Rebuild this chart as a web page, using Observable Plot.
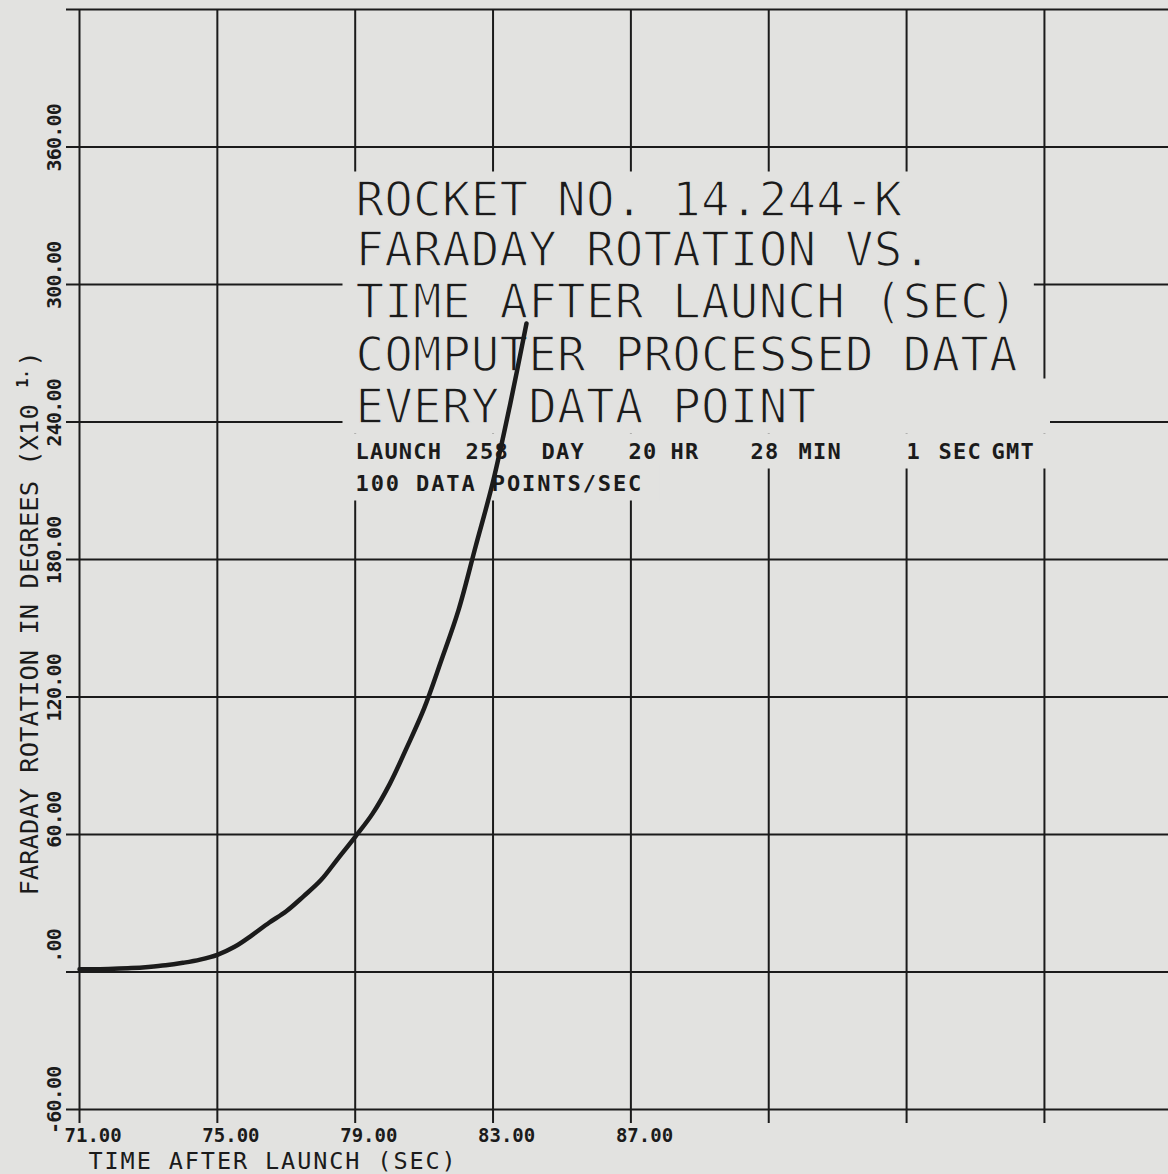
<!DOCTYPE html>
<html><head><meta charset="utf-8">
<script src="https://cdn.jsdelivr.net/npm/d3@7"></script>
<script src="https://cdn.jsdelivr.net/npm/@observablehq/plot@0.6"></script>
<style>
html,body{margin:0;padding:0;background:#e2e2e0;overflow:hidden;}
#chart{width:1168px;height:1174px;}
</style></head><body><div id="chart"></div>
<script>
// ---- data ----
const time = [71.0,71.5,72.0,72.5,73.0,73.5,74.0,74.5,75.0,75.5,76.0,76.5,77.0,77.5,78.0,78.5,79.0,79.5,80.0,80.5,81.0,81.5,82.0,82.5,83.0,83.5,83.97];
const rotation = [1.2,1.2,1.4,1.7,2.2,2.9,4.0,5.4,7.5,11,16,21.5,26.5,33,40,49.5,59,69,82,98,115,136,158,186,214,248,283];
const xGridTicks = [71,75,79,83,87,91,95,99];
const xLabelTicks = [71,75,79,83,87];
const yGridTicks = [-60,0,60,120,180,240,300,360,420];
const yLabelTicks = [-60,0,60,120,180,240,300,360];
const titleLines = ["ROCKET NO. 14.244-K","FARADAY ROTATION VS.","TIME AFTER LAUNCH (SEC)","COMPUTER PROCESSED DATA","EVERY DATA POINT"];
const launchTokens = ["LAUNCH","258","DAY","20","HR","28","MIN","1","SEC","GMT"];
const rateLine = "100 DATA POINTS/SEC";
const xTitle = "TIME AFTER LAUNCH (SEC)";
const yTitle = "FARADAY ROTATION IN DEGREES (X10";
const yTitleExp = "1.";
const yTitleClose = ")";

// ---- layout / style ----
const PAPER = "#e2e2e0", INK = "#1b1b1b";
const FONT = "'DejaVu Sans Mono','Liberation Mono',monospace";
const W = 1168, H = 1174;
const titleDx = 276;
const titleBaselines = [206, 256, 308, 361, 413];
const launchDx = [0,110,186,273,315,395,443,551,583,636];
const launchBaseline = 449, rateBaseline = 481;
const fmt = d => d === 0 ? ".00" : d.toFixed(2);

const series = time.map((t, i) => ({t, r: rotation[i]}));

const marks = [
  Plot.ruleY(yGridTicks, {y: d => d, stroke: INK, strokeWidth: 2, insetLeft: -13}),
  Plot.ruleX(xGridTicks, {x: d => d, stroke: INK, strokeWidth: 2, insetBottom: -14}),
  Plot.text(xLabelTicks, {x: d => d, text: fmt, frameAnchor: "bottom", textAnchor: "start", lineAnchor: "bottom",
    dx: -15, dy: 32, fontSize: 19, fontWeight: "bold", fontFamily: FONT, fill: INK}),
  Plot.text(yLabelTicks, {y: d => d, text: fmt, frameAnchor: "left", rotate: -90, textAnchor: "end", lineAnchor: "bottom",
    dx: -19, dy: -43, fontSize: 20, fontWeight: "bold", fontFamily: FONT, fill: INK}),
  Plot.text([xTitle], {text: d => d, frameAnchor: "bottom-left", textAnchor: "start", lineAnchor: "bottom",
    dx: 9, dy: 59, fontSize: 23.5, fontFamily: FONT, fill: INK}),
  Plot.text([yTitle], {text: d => d, frameAnchor: "bottom-left", rotate: -90, textAnchor: "start", lineAnchor: "bottom",
    dx: -42, dy: -214, fontSize: 25.5, fontFamily: FONT, fill: INK}),
  Plot.text([yTitleExp], {text: d => d, frameAnchor: "bottom-left", rotate: -90, textAnchor: "start", lineAnchor: "bottom",
    dx: -52, dy: -722, fontSize: 15, fontFamily: FONT, fontWeight: "bold", fill: INK}),
  Plot.text([yTitleClose], {text: d => d, frameAnchor: "bottom-left", rotate: -90, textAnchor: "start", lineAnchor: "bottom",
    dx: -42, dy: -743, fontSize: 25.5, fontFamily: FONT, fill: INK}),
  ...titleLines.map((line, i) => Plot.text([line], {text: d => d, frameAnchor: "top-left", textAnchor: "start", lineAnchor: "bottom",
    dx: titleDx, dy: titleBaselines[i], fontSize: 47.5, fontFamily: FONT, fill: INK, stroke: PAPER, strokeWidth: 1.4})),
  ...launchTokens.map((tok, i) => Plot.text([tok], {text: d => d, frameAnchor: "top-left", textAnchor: "start", lineAnchor: "bottom",
    dx: titleDx + launchDx[i], dy: launchBaseline, fontSize: 22, fontWeight: "bold", fontFamily: FONT, fill: INK})),
  Plot.text([rateLine], {text: d => d, frameAnchor: "top-left", textAnchor: "start", lineAnchor: "bottom",
    dx: titleDx, dy: rateBaseline, fontSize: 22, fontWeight: "bold", fontFamily: FONT, fill: INK}),
  Plot.line(series, {x: "t", y: "r", stroke: INK, strokeWidth: 4.5, curve: "catmull-rom"})
];

const plot = Plot.plot({
  width: W, height: H,
  marginLeft: 79, marginTop: 9, marginRight: 0, marginBottom: 65,
  x: {domain: [71, 102.6], axis: null},
  y: {domain: [-60, 420], axis: null},
  style: {background: PAPER, color: INK, fontFamily: FONT, overflow: "visible"},
  marks
});
document.getElementById("chart").append(plot);
const svg = plot.tagName.toLowerCase() === "svg" ? plot : plot.querySelector("svg");
const svgRect = svg.getBoundingClientRect();

// classify each text: the bottom axis title shares its wording with a title row
const allText = [...svg.querySelectorAll("text")];
const isAxisTitle = t => t.textContent === xTitle && (t.getBoundingClientRect().top - svgRect.top) > 1000;
const isXTick = t => xLabelTicks.map(fmt).includes(t.textContent) && !/rotate/.test(t.getAttribute("transform") || "");

// letter spacing of the plotter lettering (per text)
const spacing = new Map();
titleLines.forEach(t => spacing.set(t, 0.2));
spacing.set(rateLine, 1.9);
launchTokens.forEach(t => spacing.set(t, 1.2));
yLabelTicks.forEach(d => spacing.set(fmt(d), -0.8));

const thinSet = new Set([...titleLines]);
const knockSet = new Set([...titleLines, ...launchTokens, rateLine]);
const wideSet = new Set([titleLines[4]]);
const smallSet = new Set([...launchTokens, rateLine]);

const knockTexts = [];
allText.forEach(t => {
  const s = t.textContent;
  if (isAxisTitle(t)) { t.style.letterSpacing = "1.9px"; return; }
  if (isXTick(t)) return;
  if (spacing.has(s)) t.style.letterSpacing = spacing.get(s) + "px";
  if (thinSet.has(s)) {
    // thin the plotter-style strokes: paper stroke painted over the glyph fill
    t.style.paintOrder = "normal";
    t.setAttribute("paint-order", "normal");
  }
  if (knockSet.has(s)) knockTexts.push(t);
});
// knock the grid out behind each annotation row (as the plotter did)
const rows = new Map();
let firstGroup = null;
knockTexts.forEach(t => {
  const s = t.textContent;
  let g = t;
  while (g.parentNode && g.parentNode !== svg) g = g.parentNode;
  if (!firstGroup) firstGroup = g;
  const r = t.getBoundingClientRect();
  const key = Math.round(r.bottom / 4);
  const cur = rows.get(key) || {l: Infinity, r: -Infinity, t: Infinity, b: -Infinity, wide: false, small: false};
  cur.l = Math.min(cur.l, r.left); cur.r = Math.max(cur.r, r.right);
  cur.t = Math.min(cur.t, r.top); cur.b = Math.max(cur.b, r.bottom);
  if (wideSet.has(s)) cur.wide = true;
  if (smallSet.has(s)) cur.small = true;
  rows.set(key, cur);
});
if (firstGroup) {
  rows.forEach(c => {
    const rect = document.createElementNS("http://www.w3.org/2000/svg", "rect");
    const padY = c.small ? 5 : 0;
    const left = c.l - svgRect.left - 13;
    const right = c.wide ? 1050 : c.r - svgRect.left + 16;
    rect.setAttribute("x", left);
    rect.setAttribute("y", c.t - svgRect.top - padY);
    rect.setAttribute("width", Math.max(0, right - left));
    rect.setAttribute("height", Math.max(0, c.b - c.t + 2 * padY));
    rect.setAttribute("fill", PAPER);
    svg.insertBefore(rect, firstGroup);
  });
}
</script></body></html>
